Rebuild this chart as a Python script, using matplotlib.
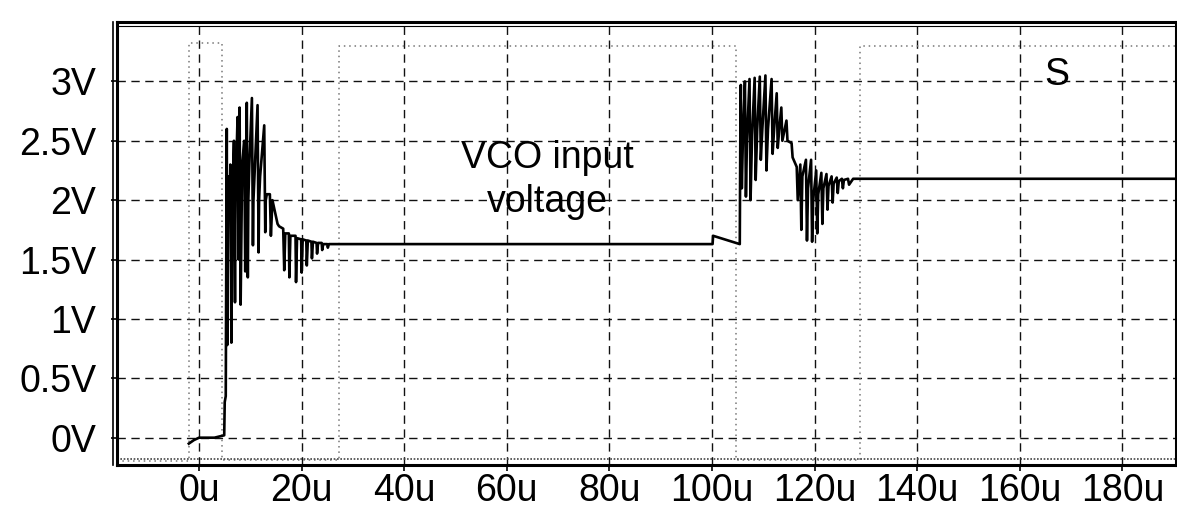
import matplotlib.pyplot as plt

plt.rcParams['font.family'] = ['Liberation Sans', 'DejaVu Sans']

# VCO input voltage trace (time in us, volts)
vco_t = [-2.0, -1.0, 0.0, 3.0, 4.9, 5.0, 5.2, 5.3,
         5.4, 5.5, 5.6, 5.7, 5.9, 6.0, 6.1, 6.3, 6.4, 6.5, 6.8, 7.0,
         7.1, 7.2, 7.5, 7.7, 7.8, 7.9, 8.1, 8.2, 8.4, 8.8, 9.0, 9.1,
         9.3, 9.5, 9.6, 9.8, 10.3, 10.5, 10.6, 10.8, 11.4, 11.6, 11.7,
         11.9, 12.7, 12.9, 13.0, 13.2, 13.8, 14.0, 14.3, 14.8,
         15.3, 15.6, 16.4, 16.6, 16.8, 17.5, 17.6, 17.8, 18.8, 18.9,
         19.1, 19.9, 20.0, 20.2, 20.9, 21.0, 21.2, 21.9, 22.0, 22.2,
         22.9, 23.0, 23.2, 23.9, 24.0, 24.2, 25.0, 25.1, 25.3, 26.0,
         100.1, 100.2, 105.4,
         105.5, 105.6, 105.8, 106.0, 106.4, 106.6, 106.8, 107.3, 107.5,
         107.8, 108.3, 108.5, 108.8, 109.3, 109.5, 109.8, 110.4, 110.6,
         110.9, 111.6, 111.8, 112.1, 112.6, 112.8, 113.1, 113.5, 113.7,
         114.5, 114.7, 115.5, 115.7, 116.5, 116.7, 117.2, 117.4, 117.6,
         118.3, 118.5, 118.7, 119.3, 119.5, 119.7, 120.3, 120.5, 120.7,
         121.3, 121.5, 121.7, 122.3, 122.5, 122.7, 123.3, 123.5, 123.7,
         124.3, 124.5, 124.7, 125.3, 125.5, 125.7, 126.5, 126.7, 127.5,
         128.5, 190.5]
vco_v = [-0.05, -0.02, 0.0, 0.0, 0.02, 0.3, 0.35, 1.5,
         2.6, 0.78, 1.5, 2.2, 1.9, 2.0, 2.3, 0.8, 1.5, 2.0, 2.5, 1.14,
         2.0, 2.2, 2.7, 1.5, 2.0, 2.78, 1.12, 1.5, 2.3, 2.5, 1.4, 2.0,
         2.82, 1.35, 2.0, 2.3, 2.86, 1.62, 2.0, 2.2, 2.80, 1.56, 2.0,
         2.2, 2.63, 1.73, 2.0, 2.05, 2.05, 1.7, 2.0, 1.9,
         1.8, 1.78, 1.76, 1.41, 1.72, 1.72, 1.35, 1.70, 1.70, 1.31,
         1.68, 1.67, 1.39, 1.67, 1.66, 1.45, 1.66, 1.65, 1.51, 1.65,
         1.64, 1.55, 1.64, 1.64, 1.58, 1.63, 1.63, 1.60, 1.63, 1.63,
         1.63, 1.70, 1.63,
         2.5, 2.97, 2.1, 2.5, 3.0, 2.03, 2.5, 3.02, 2.0,
         2.55, 3.03, 2.17, 2.6, 3.04, 2.34, 2.6, 3.05, 2.25,
         2.6, 3.02, 2.39, 2.6, 2.9, 2.44, 2.6, 2.78, 2.5,
         2.67, 2.5, 2.48, 2.36, 2.28, 2.0, 2.3, 1.75, 2.2,
         2.34, 1.66, 2.1, 2.34, 1.65, 2.0, 2.25, 1.72, 2.05,
         2.23, 1.80, 2.1, 2.22, 1.92, 2.12, 2.20, 1.98, 2.14,
         2.19, 2.06, 2.16, 2.18, 2.10, 2.17, 2.18, 2.13, 2.18,
         2.18, 2.18]

# S digital signal (dotted)
s_t = [-16.0, -2.0, 4.5, 27.3, 104.7, 128.8, 190.5]
s_v = [-0.2, 3.32, -0.19, 3.30, -0.19, 3.30, 3.30]

# low rail trace along the bottom
rail_t = [-16.0, 190.5]
rail_v = [-0.18, -0.18]

x_ticks = [0, 20, 40, 60, 80, 100, 120, 140, 160, 180]
x_labels = ['0u', '20u', '40u', '60u', '80u', '100u', '120u', '140u', '160u', '180u']
y_ticks = [0, 0.5, 1, 1.5, 2, 2.5, 3]
y_labels = ['0V', '0.5V', '1V', '1.5V', '2V', '2.5V', '3V']

fig = plt.figure(figsize=(11.77, 5.12), dpi=100)
ax = fig.add_axes([0.0994, 0.0918, 0.8996, 0.8652])

ax.plot(s_t, s_v, drawstyle='steps-post', color='#777777', linewidth=1.1,
        linestyle=(0, (1, 2.5)))
ax.plot(rail_t, rail_v, color='#444444', linewidth=1.2, linestyle=(0, (1, 1)))
ax.plot(vco_t, vco_v, color='black', linewidth=1.9)

ax.set_xlim(-16.0, 190.4)
ax.set_ylim(-0.23, 3.50)
ax.set_xticks(x_ticks)
ax.set_xticklabels(x_labels)
ax.set_yticks(y_ticks)
ax.set_yticklabels(y_labels)
ax.tick_params(axis='both', labelsize=27, length=4, width=1.2, color='black')
ax.tick_params(axis='x', pad=2)
ax.tick_params(axis='y', pad=11)
ax.grid(True, color='#111111', linewidth=1.0, linestyle=(0, (6, 4)))

for sp in ax.spines.values():
    sp.set_linewidth(2.2)
# double frame line on the left and top like the scan
ax.plot([-0.004, -0.004], [0, 1], transform=ax.transAxes, color='black',
        linewidth=1.2, clip_on=False)
ax.plot([0, 1], [0.992, 0.992], transform=ax.transAxes, color='black',
        linewidth=0.8, clip_on=False)

ax.text(67.8, 2.17, 'VCO input\nvoltage', fontsize=27, ha='center', va='center',
        linespacing=1.3)
ax.text(167.3, 3.05, 'S', fontsize=27, ha='center', va='center')

fig.savefig('out.png', dpi=100)
